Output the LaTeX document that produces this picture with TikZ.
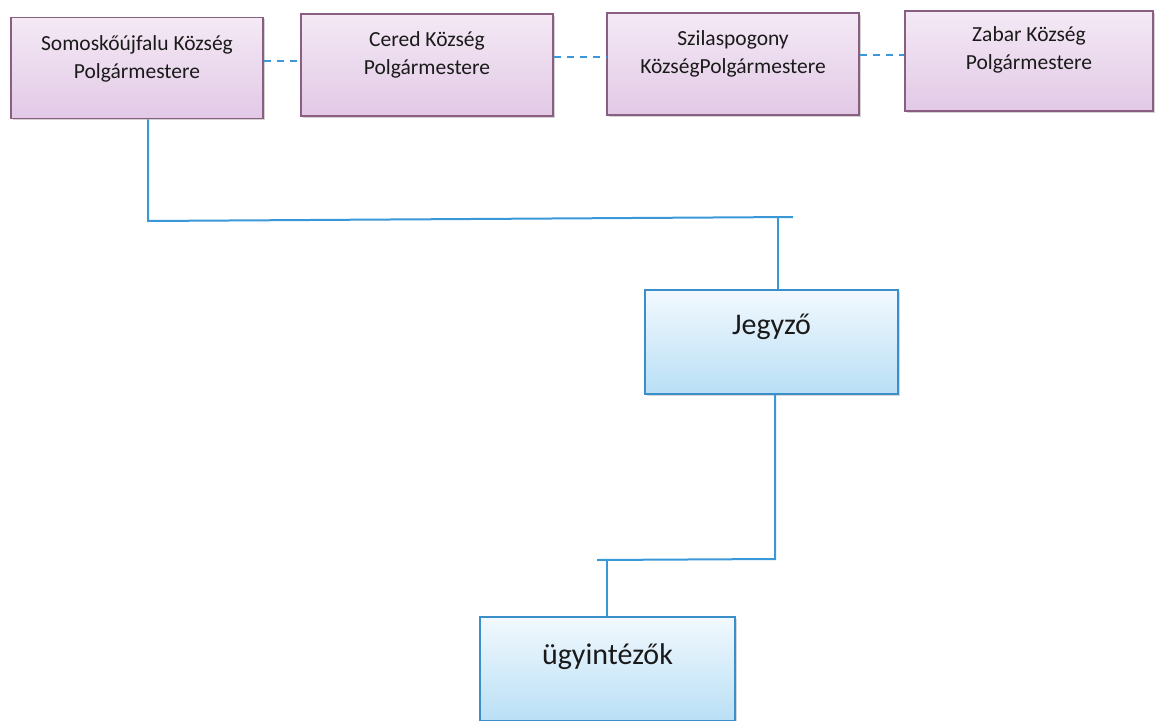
\documentclass[tikz,border=0pt]{standalone}
\usepackage{fontspec}
\setmainfont{Carlito}
\usetikzlibrary{shadows}
\definecolor{pborder}{HTML}{8A5E80}
\definecolor{ptop}{HTML}{F4E9F5}
\definecolor{pbot}{HTML}{E2C9E6}
\definecolor{bborder}{HTML}{3A8EC9}
\definecolor{btop}{HTML}{F2F9FE}
\definecolor{bbot}{HTML}{B9DFF5}
\definecolor{lineblue}{HTML}{3A98D8}
\definecolor{txt}{HTML}{1A1A1A}
\tikzset{
  pbox/.style={draw=pborder, line width=1.6pt, top color=ptop, bottom color=pbot,
    drop shadow={shadow xshift=1.5pt, shadow yshift=-1.5pt, opacity=0.35},
    inner sep=0pt},
  bbox/.style={draw=bborder, line width=1.8pt, top color=btop, bottom color=bbot,
    drop shadow={shadow xshift=1.5pt, shadow yshift=-1.5pt, opacity=0.3},
    inner sep=0pt},
  ptext/.style={text=txt, align=center, font=\fontsize{21.5}{28}\selectfont, inner sep=0pt},
  btext/.style={text=txt, align=center, font=\fontsize{30}{34}\selectfont, inner sep=0pt},
  conn/.style={draw=lineblue, line width=2pt},
  dconn/.style={draw=lineblue, line width=2pt, dash pattern=on 7pt off 6pt}
}
\begin{document}
\begin{tikzpicture}[x=1pt,y=-1pt]
\useasboundingbox (0,0) rectangle (1155,720);
% top boxes
\node[pbox, minimum width=252pt, minimum height=101pt] (b1) at (137,68) {};
\node[pbox, minimum width=252pt, minimum height=102pt] (b2) at (427,65) {};
\node[pbox, minimum width=252pt, minimum height=102pt] (b3) at (733,64) {};
\node[pbox, minimum width=248pt, minimum height=100pt] (b4) at (1029,61) {};
\node[ptext] (t1) at (137,59) {Somoskőújfalu Község\\Polgármestere};
\node[ptext] (t2) at (427,55) {Cered Község\\Polgármestere};
\node[ptext] (t3) at (733,54) {Szilaspogony\\KözségPolgármestere};
\node[ptext] (t4) at (1029,50) {Zabar Község\\Polgármestere};
% dashed links
\draw[dconn] (b1.east |- 0,61) -- (b2.west |- 0,61);
\draw[dconn] (b2.east |- 0,57) -- (b3.west |- 0,57);
\draw[dconn] (b3.east |- 0,55) -- (b4.west |- 0,55);
% lower boxes
\node[bbox, minimum width=253pt, minimum height=104pt] (j) at (771.5,342) {};
\node[btext] (jt) at (771.5,327) {Jegyző};
\node[bbox, minimum width=255pt, minimum height=104pt] (u) at (607.5,669) {};
\node[btext] (ut) at (607.5,657) {ügyintézők};
% connectors
\coordinate (h1) at (148,221);
\coordinate (h2) at (793,217);
\coordinate (h3) at (775,559);
\coordinate (h4) at (597,560);
\draw[conn] (b1.south -| h1) -- (h1) -- (h2);
\draw[conn] (778,218) -- (j.north -| 778,0);
\draw[conn] (j.south -| h3) -- (h3) -- (h4);
\draw[conn] (607,560) -- (u.north -| 607,0);
\end{tikzpicture}
\end{document}
